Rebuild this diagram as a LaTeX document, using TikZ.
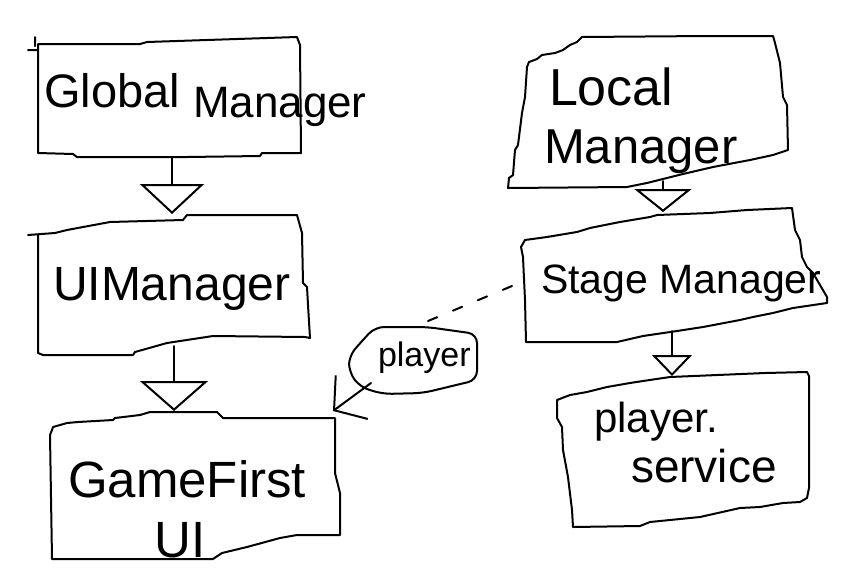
\documentclass[tikz,border=0pt]{standalone}
\usepackage{fontspec}
\setmainfont{Liberation Sans}
\usetikzlibrary{arrows.meta,calc}
\begin{document}
\begin{tikzpicture}[x=1pt,y=-1pt,line width=2pt,line join=round,line cap=round,
  outline/.style={draw=black,line width=2pt},
  boxarea/.style={draw=none,inner sep=0pt,minimum width=#1},
  txt/.style={font=\fontsize{#1}{#1}\selectfont,inner sep=0pt,anchor=base west},
  inh/.style 2 args={-{Triangle[open,length=#1,width=#2]}},
  assoc/.style={-{Straight Barb[length=22pt,width=54pt]}},
  dep/.style={dash pattern=on 10pt off 17pt}]
\path[fill=white] (0,0) rectangle (860,582);
\useasboundingbox (0,0) rectangle (860,582);

% invisible areas of the boxes (for the connectors)
\node[boxarea=268pt,minimum height=116pt] (gm) at (172,99) {};
\node[boxarea=272pt,minimum height=140pt] (ui) at (174,285) {};
\node[boxarea=290pt,minimum height=147pt] (gf) at (195,485.5) {};
\node[boxarea=280pt,minimum height=152pt] (lm) at (648,112) {};
\node[boxarea=305pt,minimum height=134pt] (sm) at (674.5,275) {};
\node[boxarea=252pt,minimum height=155pt] (ps) at (683,449.5) {};
\node[boxarea=128pt,minimum height=67pt] (pl) at (413,360.5) {};

% hand-drawn outlines
\draw[outline] (38,44) -- (140,44) -- (147,42) -- (297,37) -- (300,45) -- (301,153) -- (262,153) -- (260,156) -- (187,157) -- (77,157) -- (73,154) -- (38,153) -- cycle
  (28,50) -- (38,50) (35,37) -- (35,46);
\draw[outline] (28,235) -- (55,233) -- (67,230) -- (110,222) -- (183,220) -- (187,215) -- (297,215) -- (302,233) -- (303,283) -- (307,287) -- (308,305) -- (310,338) -- (305,337) -- (213,336) -- (167,343) -- (135,352) -- (133,355) -- (43,355) -- (38,353) -- (38,235);
\draw[outline] (52,430) -- (53,427) -- (67,423) -- (78,422) -- (113,420) -- (115,418) -- (140,415) -- (150,412) -- (217,412) -- (223,418) -- (335,418) -- (335,473) -- (340,493) -- (340,535) -- (297,535) -- (280,538) -- (247,547) -- (222,553) -- (213,559) -- (52,559) -- (50,435) -- cycle;
\draw[outline] (508,188) -- (509,178) -- (513,175) -- (515,150) -- (518,145) -- (522,113) -- (525,97) -- (527,67) -- (529,62) -- (537,59) -- (542,55) -- (555,53) -- (563,50) -- (570,45) -- (577,42) -- (582,37) -- (707,36) -- (773,36) -- (775,43) -- (780,63) -- (783,97) -- (787,105) -- (788,150) -- (773,155) -- (750,160) -- (713,167) -- (683,174) -- (647,183) -- (627,187) -- cycle;
\draw[outline] (525,240) -- (547,237) -- (577,232) -- (590,228) -- (620,222) -- (650,217) -- (657,215) -- (710,213) -- (747,210) -- (792,208) -- (795,230) -- (800,240) -- (802,257) -- (807,267) -- (813,273) -- (820,285) -- (827,297) -- (827,303) -- (793,308) -- (773,313) -- (753,317) -- (740,320) -- (703,327) -- (677,331) -- (643,336) -- (617,342) -- (526,342) -- (525,300) -- (523,257) -- (521,247) -- cycle;
\draw[outline] (557,400) -- (570,395) -- (587,392) -- (607,387) -- (630,383) -- (643,381) -- (670,377) -- (765,373) -- (807,372) -- (809,376) -- (809,488) -- (807,498) -- (800,502) -- (783,503) -- (760,507) -- (740,508) -- (700,517) -- (650,522) -- (640,526) -- (573,527) -- (572,510) -- (568,477) -- (563,450) -- (562,427) -- (557,418) -- cycle;
\draw[outline,rounded corners=9pt] (375,327) -- (427,327) -- (477,334) -- (477,380) -- (423,393) -- (383,394) -- (360,387) -- (349,372) -- (349,356) -- (362,341) -- cycle;

% texts
\node[txt=47] (gmt1) at (43,107) {Global};
\node[txt=44] (gmt2) at (192,117) {Manager};
\node[txt=48] (uit) at (52,300) {UIManager};
\node[txt=51] (gft1) at (67,497) {GameFirst};
\node[txt=51,anchor=base] (gft2) at (180,557) {UI};
\node[txt=52] (lmt1) at (548,105) {Local};
\node[txt=49] (lmt2) at (543,163) {Manager};
\node[txt=41] (smt) at (540,293) {Stage Manager};
\node[txt=42] (pst1) at (593,432) {player.};
\node[txt=46] (pst2) at (630,482) {service};
\node[txt=34] (plt) at (377,366) {player};

% connectors
\draw[inh={30pt}{64pt}] (gm.south) -- (gm.south |- ui.north);
\draw[inh={30pt}{68pt}] ($(ui.south)+(0,-10)$) -- (ui.south |- gf.north);
\draw[inh={23pt}{57pt}] ($(lm.south)+(15,-8)$) -- ($(lm.south |- sm.north)+(15,5)$);
\draw[inh={21pt}{40pt}] ($(sm.south)+(-2.5,-12)$) -- ($(sm.south |- ps.north)+(-2.5,5)$);
\draw[dep] ($(pl.north)+(15,-5)$) -- ($(sm.west)+(-9,11)$);
\draw[assoc] ($(pl.south west)+(23,-12)$) -- ($(gf.north east)+(-8,0)$);
\end{tikzpicture}
\end{document}
